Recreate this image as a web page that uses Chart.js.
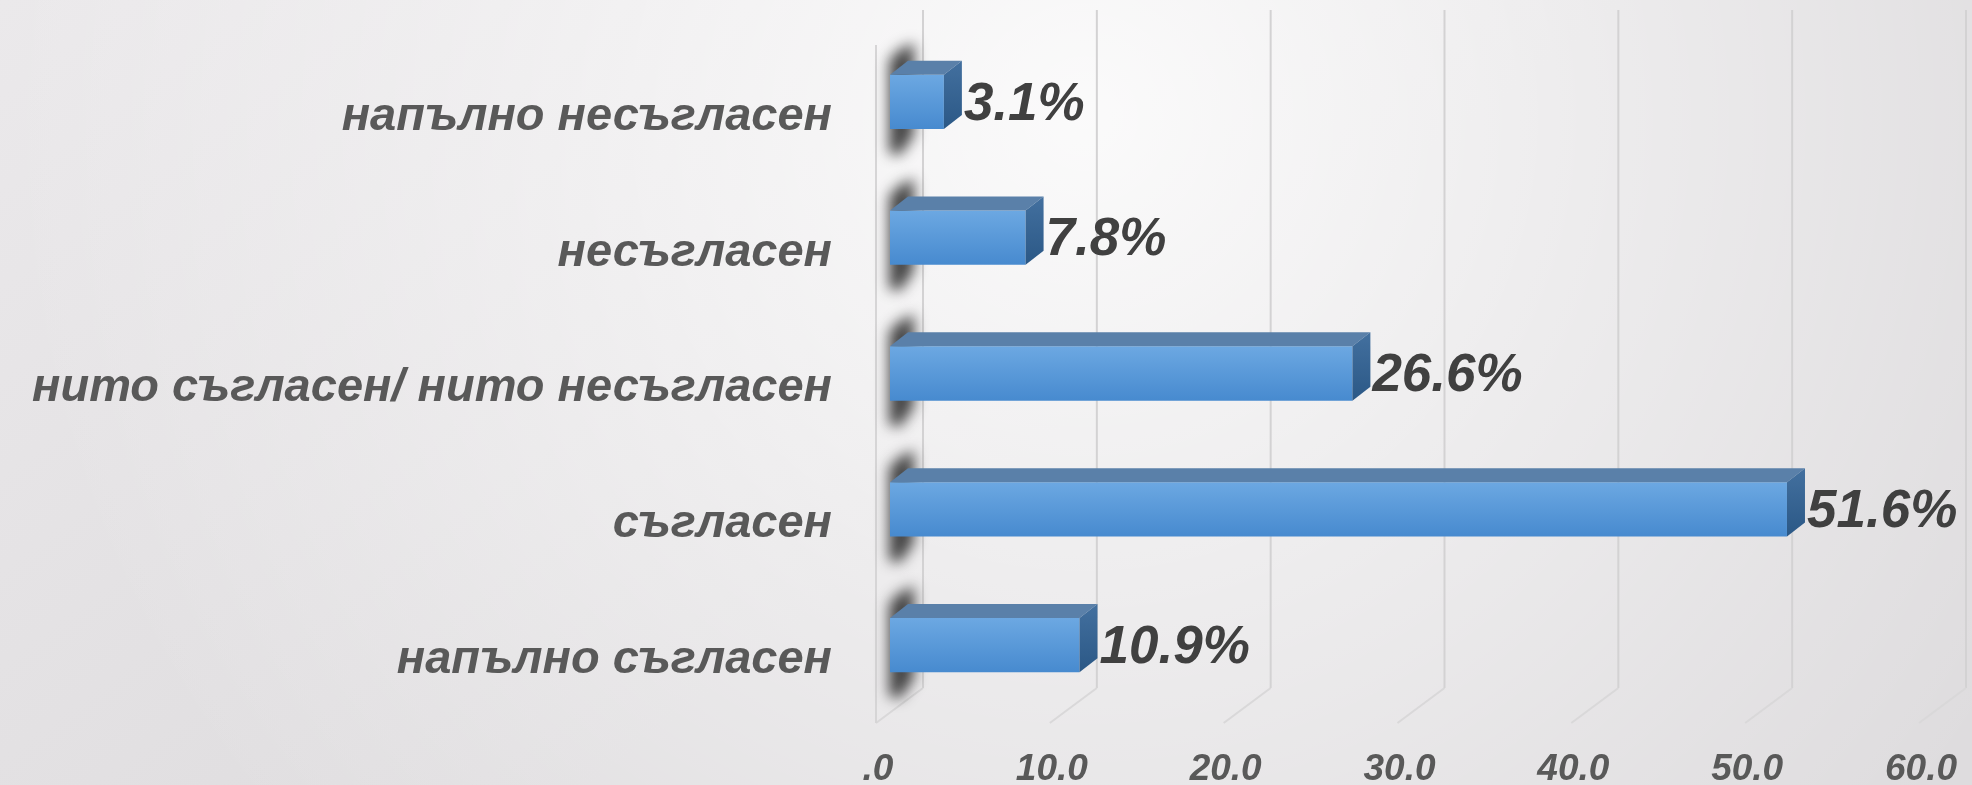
<!DOCTYPE html>
<html lang="bg">
<head>
<meta charset="utf-8">
<script src="https://cdn.jsdelivr.net/npm/chart.js@4.4.1/dist/chart.umd.min.js"></script>
<style>
    html, body { margin: 0; padding: 0; background: #eceaec; }
    #answers_chart { display: block; }
</style>
</head>
<body>
<canvas id="answers_chart" width="1972" height="785"></canvas>
<script>
// survey answers, percent of respondents
var answer_labels = ['напълно несъгласен', 'несъгласен', 'нито съгласен/ нито несъгласен', 'съгласен', 'напълно съгласен'];
var answer_values = [3.1, 7.8, 26.6, 51.6, 10.9];
var axis_ticks = [0, 10, 20, 30, 40, 50, 60];

var BAR_PERCENT = 0.4;
var DEPTH_X = 18, DEPTH_Y = 14;      // bar depth
var WALL_BACK = 33, WALL_FRONT = -14; // walls / floor offsets from the value scale

var background_plugin = {
    id: 'background_plugin',
    beforeDraw: function (chart) {
        var ctx = chart.ctx;
        var w = chart.width, h = chart.height;
        ctx.save();
        var lin = ctx.createLinearGradient(0, 0, w * 0.3, h);
        lin.addColorStop(0, '#ebe9eb');
        lin.addColorStop(1, '#dedcde');
        ctx.fillStyle = lin;
        ctx.fillRect(0, 0, w, h);
        var rad = ctx.createRadialGradient(w * 0.55, h * 0.15, 10, w * 0.55, h * 0.15, w * 0.55);
        rad.addColorStop(0, 'rgba(255,255,255,0.85)');
        rad.addColorStop(1, 'rgba(255,255,255,0)');
        ctx.fillStyle = rad;
        ctx.fillRect(0, 0, w, h);
        ctx.restore();
    },
    beforeDatasetsDraw: function (chart) {
        var ctx = chart.ctx;
        var x = chart.scales.x;
        var area = chart.chartArea;
        ctx.save();
        // back wall grid lines going down into the floor
        ctx.lineWidth = 2;
        for (var i = 0; i < axis_ticks.length; i++) {
            var px = x.getPixelForValue(axis_ticks[i]);
            ctx.strokeStyle = '#d3d2d3';
            ctx.beginPath();
            ctx.moveTo(px + WALL_BACK, area.top - 24);
            ctx.lineTo(px + WALL_BACK, area.bottom - 25);
            ctx.stroke();
            ctx.strokeStyle = '#d9d8d9';
            ctx.beginPath();
            ctx.moveTo(px + WALL_BACK, area.bottom - 25);
            ctx.lineTo(px + WALL_FRONT, area.bottom + 10);
            ctx.stroke();
        }
        // left wall front edge
        var x0 = x.getPixelForValue(0);
        ctx.strokeStyle = '#d6d5d6';
        ctx.beginPath();
        ctx.moveTo(x0 + WALL_FRONT, area.top + 11);
        ctx.lineTo(x0 + WALL_FRONT, area.bottom + 10);
        ctx.stroke();

        // shadows of the bars on the left wall
        var meta = chart.getDatasetMeta(0);
        ctx.filter = 'blur(7px)';
        ctx.fillStyle = 'rgba(25,25,25,0.8)';
        meta.data.forEach(function (bar) {
            var top = bar.y - bar.height / 2;
            var bottom = bar.y + bar.height / 2;
            ctx.beginPath();
            ctx.moveTo(x0 + 8, top - 24);
            ctx.lineTo(x0 + 24, top - 32);
            ctx.lineTo(x0 + 24, bottom + 6);
            ctx.lineTo(x0 + 10, bottom + 26);
            ctx.lineTo(x0 - 1, bottom + 24);
            ctx.lineTo(x0 - 1, top - 14);
            ctx.closePath();
            ctx.fill();
        });
        ctx.filter = 'none';
        ctx.restore();
    }
};

var bar3d_plugin = {
    id: 'bar3d_plugin',
    afterDatasetsDraw: function (chart) {
        var ctx = chart.ctx;
        var meta = chart.getDatasetMeta(0);
        ctx.save();
        meta.data.forEach(function (bar, i) {
            var x0 = bar.base, x1 = bar.x;
            var top = bar.y - bar.height / 2;
            var bottom = bar.y + bar.height / 2;

            // top face
            ctx.fillStyle = '#5a80a9';
            ctx.beginPath();
            ctx.moveTo(x0, top);
            ctx.lineTo(x0 + DEPTH_X, top - DEPTH_Y);
            ctx.lineTo(x1 + DEPTH_X, top - DEPTH_Y);
            ctx.lineTo(x1, top);
            ctx.closePath();
            ctx.fill();

            // right side face
            var side = ctx.createLinearGradient(0, top - DEPTH_Y, 0, bottom);
            side.addColorStop(0, '#43709f');
            side.addColorStop(1, '#2b5886');
            ctx.fillStyle = side;
            ctx.beginPath();
            ctx.moveTo(x1, top);
            ctx.lineTo(x1 + DEPTH_X, top - DEPTH_Y);
            ctx.lineTo(x1 + DEPTH_X, bottom - DEPTH_Y);
            ctx.lineTo(x1, bottom);
            ctx.closePath();
            ctx.fill();

            // value label
            ctx.fillStyle = '#404040';
            ctx.font = 'italic bold 53px "Liberation Sans", Arial, sans-serif';
            ctx.textAlign = 'left';
            ctx.textBaseline = 'middle';
            ctx.fillText(answer_values[i].toFixed(1) + '%', x1 + 20, bar.y + 3);
        });
        ctx.restore();
    }
};

function front_gradient(context) {
    var chart = context.chart;
    var area = chart.chartArea;
    var y = chart.scales.y;
    if (!area || !y || !isFinite(area.top)) {
        return '#5597da';
    }
    var center = y.getPixelForValue(context.dataIndex);
    var half = area.height / answer_labels.length * BAR_PERCENT / 2;
    if (!isFinite(center) || !isFinite(half)) {
        return '#5597da';
    }
    var grad = chart.ctx.createLinearGradient(0, center - half, 0, center + half);
    grad.addColorStop(0, '#6ca8e2');
    grad.addColorStop(1, '#478acf');
    return grad;
}

var answers_chart = new Chart(document.getElementById('answers_chart').getContext('2d'), {
    type: 'bar',
    data: {
        labels: answer_labels,
        datasets: [{
            data: answer_values,
            backgroundColor: front_gradient,
            borderWidth: 0,
            barPercentage: BAR_PERCENT,
            categoryPercentage: 1
        }]
    },
    options: {
        indexAxis: 'y',
        responsive: false,
        animation: false,
        layout: {
            padding: { top: 34, right: 39, left: 0, bottom: 0 }
        },
        plugins: {
            legend: { display: false },
            tooltip: { enabled: false }
        },
        scales: {
            x: {
                min: 0,
                max: 60,
                afterBuildTicks: function (scale) {
                    scale.ticks = axis_ticks.map(function (v) { return { value: v }; });
                },
                afterFit: function (scale) {
                    scale.height = 72;
                    scale.paddingLeft = 0;
                    scale.paddingRight = 0;
                },
                grid: { display: false },
                border: { display: false },
                ticks: {
                    padding: 27,
                    labelOffset: -12,
                    color: '#595959',
                    font: { family: '"Liberation Sans", Arial, sans-serif', size: 37, style: 'italic', weight: 'bold' },
                    callback: function (value) {
                        // zero is shown as ".0" in the original
                        return value === 0 ? '.0' : value.toFixed(1);
                    }
                }
            },
            y: {
                afterFit: function (scale) {
                    scale.width = 890;
                    scale.paddingTop = 0;
                    scale.paddingBottom = 0;
                },
                grid: { display: false },
                border: { display: false },
                ticks: {
                    padding: 50,
                    labelOffset: 15,
                    color: '#595959',
                    font: { family: '"Liberation Sans", Arial, sans-serif', size: 47, style: 'italic', weight: 'bold' }
                }
            }
        }
    },
    plugins: [background_plugin, bar3d_plugin]
});
</script>
</body>
</html>
